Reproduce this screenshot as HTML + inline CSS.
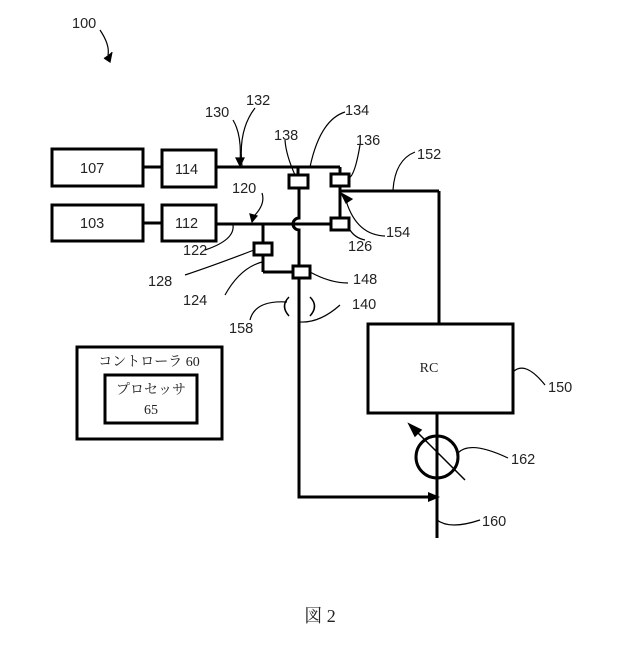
<!DOCTYPE html>
<html><head><meta charset="utf-8"><style>body{margin:0;background:#fff}</style></head><body>
<svg width="640" height="640" xmlns="http://www.w3.org/2000/svg" font-family="Liberation Sans, sans-serif" font-size="14.5" fill="none" stroke="#000">
<g stroke-width="3">
<rect x="52" y="149" width="91" height="37" fill="#fff"/>
<rect x="162" y="150" width="54" height="37" fill="#fff"/>
<rect x="52" y="205" width="91" height="36" fill="#fff"/>
<rect x="162" y="205" width="54" height="36" fill="#fff"/>
<line x1="143" y1="167" x2="162" y2="167"/>
<line x1="143" y1="223" x2="162" y2="223"/>
<line x1="216" y1="167" x2="340" y2="167"/>
<line x1="340" y1="167" x2="340" y2="224"/>
<line x1="216" y1="224" x2="340" y2="224"/>
<line x1="340" y1="191" x2="439" y2="191"/>
<line x1="439" y1="191" x2="439" y2="324"/>
<line x1="298" y1="167" x2="298" y2="175"/>
<path d="M299 188 V218 A6 6 0 0 0 299 230 V497 H428"/>
<line x1="263" y1="224" x2="263" y2="272"/>
<line x1="263" y1="272" x2="299" y2="272"/>
<rect x="289" y="175" width="19" height="13" fill="#fff"/>
<rect x="331" y="174" width="18" height="12" fill="#fff"/>
<rect x="331" y="218" width="18" height="12" fill="#fff"/>
<rect x="254" y="243" width="18" height="12" fill="#fff"/>
<rect x="293" y="266" width="17" height="12" fill="#fff"/>
<rect x="368" y="324" width="145" height="89" fill="#fff"/>
<line x1="437" y1="413" x2="437" y2="538"/>
<circle cx="437" cy="457" r="21"/>
<rect x="77" y="347" width="145" height="92"/>
<rect x="105" y="375" width="92" height="48"/>
</g>
<path d="M428 492 L440 497 L428 502 Z" fill="#000" stroke="none"/>
<path d="M289 297 Q280 306 289 316 M310 297 Q319 306 310 316" stroke-width="1.5"/>
<g stroke-width="1.5">
<line x1="465" y1="480" x2="415" y2="430"/>
<path d="M409 424 L421 430 L415 436 Z" fill="#000"/>
</g>
<g stroke-width="1.2">
<path d="M100 30 Q110 45 108 55"/><path d="M104 58 L110 62 L112 52" fill="#000"/>
<path d="M233 120 Q242 135 240 162"/><path d="M236 158 L240 166 L244 158Z" fill="#000"/>
<path d="M255 108 Q238 130 242 166"/>
<path d="M285 140 Q286 155 295 175"/>
<path d="M345 112 Q320 120 310 167"/>
<path d="M360 145 Q355 175 349 178"/>
<path d="M415 152 Q395 160 393 190"/>
<path d="M385 236 Q355 235 345 197"/><path d="M341 193 L352 199 L346 203Z" fill="#000"/>
<path d="M262 193 Q266 205 252 218"/><path d="M250 214 L252 222 L257 216Z" fill="#000"/>
<path d="M233 225 Q235 240 205 250"/>
<path d="M350 230 Q355 238 365 240"/>
<path d="M254 250 Q215 265 185 275"/>
<path d="M262 262 Q240 268 225 295"/>
<path d="M310 272 Q330 283 348 283"/>
<path d="M287 302 Q255 300 250 320"/>
<path d="M300 322 Q320 323 340 305"/>
<path d="M513 372 Q525 360 545 385"/>
<path d="M458 453 Q470 440 508 458"/>
<path d="M437 520 Q450 530 480 520"/>
</g>
<g fill="#222" stroke="none">
<text x="72" y="28">100</text>
<text x="205" y="117">130</text>
<text x="246" y="105">132</text>
<text x="345" y="115">134</text>
<text x="274" y="140">138</text>
<text x="356" y="145">136</text>
<text x="417" y="159">152</text>
<text x="232" y="193">120</text>
<text x="386" y="237">154</text>
<text x="183" y="255">122</text>
<text x="348" y="251">126</text>
<text x="148" y="286">128</text>
<text x="183" y="305">124</text>
<text x="353" y="284">148</text>
<text x="352" y="309">140</text>
<text x="229" y="333">158</text>
<text x="548" y="392">150</text>
<text x="511" y="464">162</text>
<text x="482" y="526">160</text>
<text x="80" y="173">107</text>
<text x="175" y="174">114</text>
<text x="80" y="228">103</text>
<text x="175" y="228">112</text>
</g>
<g fill="#222" stroke="none" font-family="Liberation Serif, Noto Serif CJK SC, serif" font-size="14">
<text x="429" y="372" text-anchor="middle">RC</text>
<text x="149" y="366" text-anchor="middle" font-family="Liberation Serif, Noto Serif CJK JP, serif">コントローラ 60</text>
<text x="151" y="394" text-anchor="middle" font-family="Liberation Serif, Noto Serif CJK JP, serif">プロセッサ</text>
<text x="151" y="414" text-anchor="middle">65</text>
<text x="320" y="622" text-anchor="middle" font-size="18" font-family="Liberation Serif, Noto Serif CJK SC, serif">図 2</text>
</g>
</svg>
</body></html>
